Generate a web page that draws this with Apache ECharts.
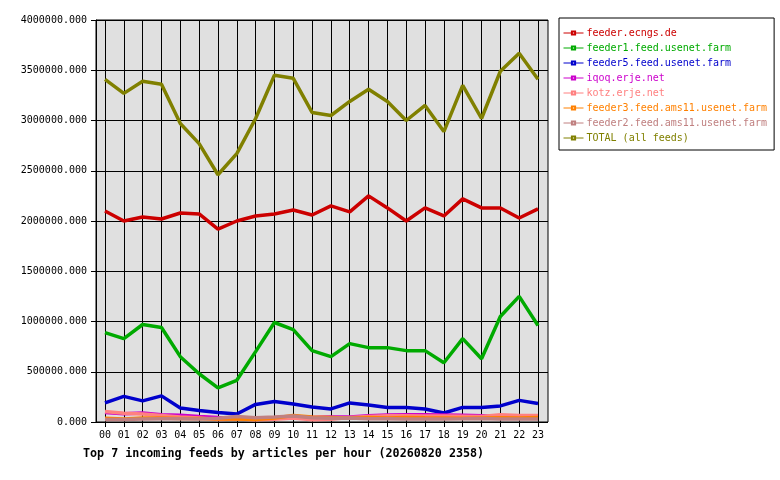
<!DOCTYPE html>
<html lang="en">

	<head>
		<meta charset="UTF-8" />
		<script src="https://cdn.jsdelivr.net/npm/echarts@6/dist/echarts.min.js"></script>
		<title>Top 7 incoming feeds</title>
		<style>
			html, body { margin: 0; padding: 0; background: #fff; }
		</style>
	</head>

	<body>
		<div id="main" style="width:780px;height:480px;"></div>
		<script>
			var hours = ['00','01','02','03','04','05','06','07','08','09','10','11',
				'12','13','14','15','16','17','18','19','20','21','22','23'];

			var feedNames = ['feeder.ecngs.de', 'feeder1.feed.usenet.farm', 'feeder5.feed.usenet.farm',
				'iqoq.erje.net', 'kotz.erje.net', 'feeder3.feed.ams11.usenet.farm',
				'feeder2.feed.ams11.usenet.farm', 'TOTAL (all feeds)'];
			var feedColors = ['#cc0000', '#00aa00', '#0000cc', '#cc00cc', '#ff8080', '#ff8000', '#c08080', '#808000'];

			// articles per hour
			var ecngs = [2100000, 2000000, 2040000, 2020000, 2080000, 2070000, 1920000, 2000000, 2050000, 2070000, 2110000, 2060000,
				2150000, 2090000, 2250000, 2130000, 2000000, 2130000, 2050000, 2220000, 2130000, 2130000, 2030000, 2120000];
			var feeder1 = [890000, 830000, 970000, 940000, 650000, 480000, 340000, 415000, 700000, 990000, 920000, 710000,
				650000, 780000, 740000, 740000, 710000, 710000, 590000, 830000, 630000, 1050000, 1250000, 960000];
			var feeder5 = [190000, 255000, 210000, 260000, 140000, 115000, 95000, 80000, 175000, 205000, 180000, 150000,
				130000, 190000, 170000, 145000, 145000, 130000, 90000, 145000, 145000, 160000, 215000, 185000];
			var iqoq = [95000, 82000, 90000, 72000, 68000, 55000, 45000, 38000, 30000, 42000, 48000, 45000,
				50000, 50000, 62000, 70000, 72000, 72000, 70000, 68000, 62000, 52000, 58000, 55000];
			var kotz = [105000, 88000, 80000, 65000, 50000, 40000, 25000, 30000, 22000, 28000, 40000, 22000,
				28000, 45000, 55000, 62000, 62000, 60000, 60000, 58000, 55000, 72000, 65000, 65000];
			var feeder3 = [38000, 30000, 40000, 40000, 35000, 35000, 30000, 30000, 25000, 40000, 65000, 50000,
				45000, 40000, 45000, 40000, 45000, 42000, 40000, 38000, 40000, 42000, 40000, 45000];
			var feeder2 = [25000, 25000, 30000, 32000, 32000, 30000, 38000, 55000, 42000, 50000, 60000, 42000,
				38000, 40000, 32000, 32000, 30000, 30000, 30000, 32000, 35000, 30000, 30000, 30000];
			var total = [3410000, 3270000, 3390000, 3360000, 2970000, 2770000, 2460000, 2670000, 3020000, 3450000, 3420000, 3080000,
				3050000, 3190000, 3310000, 3190000, 3000000, 3150000, 2890000, 3350000, 3020000, 3490000, 3670000, 3410000];

			var feedValues = [ecngs, feeder1, feeder5, iqoq, kotz, feeder3, feeder2, total];

			var mono = 'DejaVu Sans Mono';

			var series = feedNames.map(function (name, i) {
				return {
					name: name,
					type: 'line',
					xAxisIndex: 1,
					yAxisIndex: 1,
					data: feedValues[i],
					symbol: 'emptyRect',
					symbolSize: 4,
					showSymbol: false,
					lineStyle: { color: feedColors[i], width: 3.5 },
					itemStyle: { color: feedColors[i] }
				};
			});

			var legendData = feedNames.map(function (name, i) {
				return { name: name, textStyle: { color: feedColors[i] } };
			});

			var myChart = echarts.init(document.getElementById('main'));
			var option = {
				animation: false,
				backgroundColor: '#fff',
				title: {
					text: 'Top 7 incoming feeds by articles per hour (20260820 2358)',
					left: 78,
					top: 443,
					textStyle: { fontFamily: mono, fontSize: 11.7, fontWeight: 'bold', color: '#000' }
				},
				legend: {
					orient: 'vertical',
					left: 559,
					top: 18,
					data: legendData,
					itemWidth: 20,
					itemHeight: 4,
					itemGap: 5,
					padding: [10, 7, 7, 4],
					backgroundColor: '#fff',
					borderColor: '#000',
					borderWidth: 1,
					borderRadius: 0,
					lineStyle: { width: 1 },
					itemStyle: { borderWidth: 1 },
					textStyle: { fontFamily: mono, fontSize: 10, lineHeight: 10, padding: [0, 0, 0, -2] }
				},
				// grid 0 is the grey frame with the value axis, grid 1 carries the hours
				grid: [
					{ left: 96, top: 20, width: 452, height: 402, show: true,
						backgroundColor: '#e0e0e0', borderColor: '#000', borderWidth: 1 },
					{ left: 105, top: 20, width: 433, height: 402 }
				],
				xAxis: [
					{ gridIndex: 0, type: 'value', min: 0, max: 1, show: false },
					{
						gridIndex: 1,
						type: 'category',
						boundaryGap: false,
						data: hours,
						axisLine: { show: false },
						axisTick: { show: true, length: 5, lineStyle: { color: '#000' } },
						axisLabel: { margin: 8, color: '#000', fontFamily: mono, fontSize: 10 },
						splitLine: { show: true, lineStyle: { color: '#000', width: 1 } }
					}
				],
				yAxis: [
					{
						gridIndex: 0,
						type: 'value',
						min: 0,
						max: 4000000,
						interval: 500000,
						axisLine: { show: true, lineStyle: { color: '#000' } },
						axisTick: { show: true, length: 5, lineStyle: { color: '#000' } },
						axisLabel: {
							margin: 9, color: '#000', fontFamily: mono, fontSize: 10,
							formatter: function (v) { return v.toFixed(3); }
						},
						splitLine: { show: true, lineStyle: { color: '#000', width: 1 } }
					},
					{ gridIndex: 1, type: 'value', min: 0, max: 4000000, show: false }
				],
				series: series
			};

			myChart.setOption(option);
		</script>
	</body>

</html>
